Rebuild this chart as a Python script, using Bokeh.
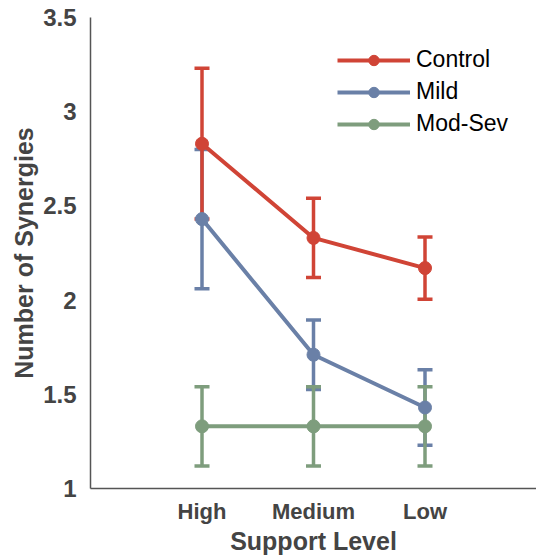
from bokeh.plotting import figure
from bokeh.models import ColumnDataSource, Whisker, TeeHead, FixedTicker, Legend, LegendItem, Range1d
from bokeh.embed import file_html
from bokeh.resources import INLINE

levels = ["High", "Medium", "Low"]
level_pos = [1, 2, 3]

control_mean = [2.83, 2.33, 2.17]
control_err = [0.40, 0.21, 0.165]
mild_mean = [2.43, 1.71, 1.43]
mild_err = [0.37, 0.185, 0.20]
modsev_mean = [1.33, 1.33, 1.33]
modsev_err = [0.21, 0.21, 0.21]

series = [
    ("Mild", mild_mean, mild_err, "#6a80a7"),
    ("Mod-Sev", modsev_mean, modsev_err, "#7e9d7d"),
    ("Control", control_mean, control_err, "#d04436"),
]

p = figure(width=536, height=560, output_backend="svg", toolbar_location=None,
           x_range=Range1d(0, 4), y_range=Range1d(1, 3.5),
           frame_width=446, frame_height=471,
           min_border_left=90, min_border_top=17, min_border_right=0, min_border_bottom=10)
p.outline_line_color = None
p.grid.visible = False
p.background_fill_color = "white"
p.border_fill_color = "white"

font = "Liberation Sans"
axis_col = "#444444"

p.yaxis.ticker = FixedTicker(ticks=[1, 1.5, 2, 2.5, 3, 3.5])
p.yaxis.major_label_overrides = {1: "1", 1.5: "1.5", 2: "2", 2.5: "2.5", 3: "3", 3.5: "3.5"}
p.yaxis.axis_label = "Number of Synergies"
p.yaxis.minor_tick_line_color = None
p.yaxis.major_tick_in = 0
p.yaxis.major_tick_out = 6
p.yaxis.major_label_standoff = 8
p.yaxis.axis_label_standoff = 2

p.xaxis.ticker = FixedTicker(ticks=level_pos)
p.xaxis.major_label_overrides = {k: v for k, v in zip(level_pos, levels)}
p.xaxis.axis_label = "Support Level"
p.xaxis.major_tick_line_color = None
p.xaxis.minor_tick_line_color = None
p.xaxis.major_label_standoff = 4
p.xaxis.axis_label_standoff = 0

for ax in (p.xaxis, p.yaxis):
    ax.axis_line_color = "#555555"
    ax.axis_line_width = 1.5
    ax.major_tick_line_color = "#555555" if ax is p.yaxis else None
    ax.major_label_text_font = font
    ax.major_label_text_font_style = "bold"
    ax.major_label_text_font_size = "22px"
    ax.major_label_text_color = axis_col
    ax.axis_label_text_font = font
    ax.axis_label_text_font_style = "bold"
    ax.axis_label_text_font_size = "25px"
    ax.axis_label_text_color = axis_col
p.yaxis.major_label_text_font_size = "24px"

items = {}
for name, mean, err, col in series:
    src = ColumnDataSource(dict(x=level_pos, y=mean,
                                upper=[m + e for m, e in zip(mean, err)],
                                lower=[m - e for m, e in zip(mean, err)]))
    w = Whisker(source=src, base="x", upper="upper", lower="lower", dimension="height",
                line_color=col, line_width=3.5,
                upper_head=TeeHead(size=15, line_color=col, line_width=3.5),
                lower_head=TeeHead(size=15, line_color=col, line_width=3.5))
    p.add_layout(w)
    ln = p.line("x", "y", source=src, line_color=col, line_width=4)
    sc = p.scatter("x", "y", source=src, size=13, fill_color=col, line_color=col)
    items[name] = [ln, sc]

legend = Legend(items=[LegendItem(label=n, renderers=items[n]) for n in ["Control", "Mild", "Mod-Sev"]],
                location=(247, 351))
legend.border_line_color = None
legend.background_fill_alpha = 0
legend.padding = 0
legend.margin = 0
legend.spacing = 5
legend.glyph_width = 73
legend.glyph_height = 26
legend.label_standoff = 6
legend.label_text_font = font
legend.label_text_font_size = "23px"
legend.label_text_color = "black"
p.add_layout(legend)

open("out.html", "w").write(file_html(p, INLINE))
